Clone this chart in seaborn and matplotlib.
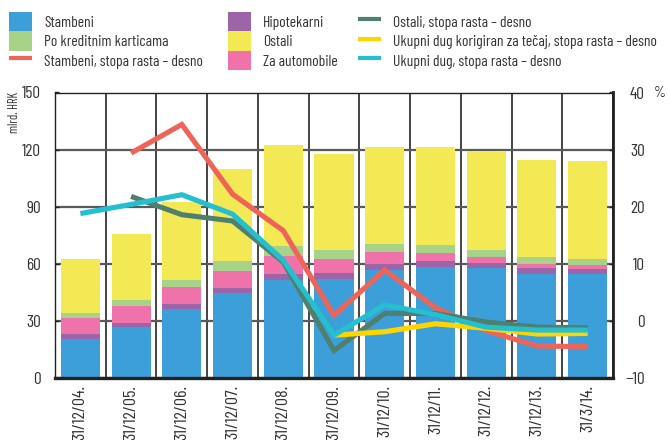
import numpy as np
import pandas as pd
import matplotlib
matplotlib.use("Agg")
import matplotlib.pyplot as plt
from matplotlib.patches import Patch
from matplotlib.lines import Line2D
import seaborn as sns

# Period labels
periods = ["31/12/04.", "31/12/05.", "31/12/06.", "31/12/07.", "31/12/08.",
           "31/12/09.", "31/12/10.", "31/12/11.", "31/12/12.", "31/12/13.",
           "31/3/14."]

# Household debt components, bn HRK
stambeni = [20.3, 26.6, 36.1, 44.5, 51.3, 51.9, 56.6, 58.2, 57.6, 54.5, 54.5]
hipotekarni = [2.7, 2.1, 2.6, 2.6, 3.2, 3.1, 3.2, 3.1, 2.7, 3.1, 2.6]
automobili = [8.4, 9.0, 9.0, 9.0, 9.5, 7.4, 6.3, 4.2, 3.1, 2.2, 2.1]
kartice = [2.6, 3.1, 3.6, 5.2, 5.2, 4.7, 4.2, 4.2, 3.7, 3.6, 3.2]
ostali = [28.4, 34.7, 41.0, 48.4, 53.1, 50.5, 51.0, 51.6, 52.1, 51.0, 51.5]

# Annual growth rates, % (right axis)
rast_stambeni = [np.nan, 29.4, 34.4, 22.2, 15.8, 1.0, 8.9, 2.3, -1.7, -4.4, -4.5]
rast_ostali = [np.nan, 21.8, 18.6, 17.5, 10.3, -5.2, 1.3, 1.3, -0.2, -1.1, -1.2]
rast_korigiran = [np.nan, np.nan, np.nan, np.nan, np.nan, -2.5, -1.9, -0.5, -1.3, -2.3, -2.2]
rast_ukupno = [18.8, 20.4, 22.1, 18.7, 10.6, -2.5, 2.8, 1.1, -1.1, -1.6, -1.6]

FONT = ["Barlow Condensed", "DejaVu Sans"]
TXT = "#333333"

sns.set_theme(style="white")
plt.rcParams["font.family"] = FONT
plt.rcParams["text.color"] = TXT

c_stambeni = "#3d9fd9"
c_hipo = "#9c65a8"
c_auto = "#ef72aa"
c_kartice = "#a7d389"
c_ostali = "#f2e954"
c_red = "#ef6459"
c_green = "#4f7f6f"
c_gold = "#ffd400"
c_cyan = "#24c0cf"

W, H = 669, 440
fig = plt.figure(figsize=(W / 100, H / 100), dpi=100)
ax = fig.add_axes([55 / W, 1 - 378 / H, (613 - 55) / W, (378 - 92.5) / H])

# Stacked bars: draw cumulative totals from the top layer down
layers = [("Stambeni", stambeni, c_stambeni),
          ("Hipotekarni", hipotekarni, c_hipo),
          ("Za automobile", automobili, c_auto),
          ("Po kreditnim karticama", kartice, c_kartice),
          ("Ostali", ostali, c_ostali)]
cum = np.cumsum([np.array(v) for _, v, _ in layers], axis=0)
for i in range(len(layers) - 1, -1, -1):
    df = pd.DataFrame({"period": periods, "value": cum[i]})
    sns.barplot(data=df, x="period", y="value", order=periods, color=layers[i][2],
                saturation=1, width=0.77, ax=ax, zorder=2, linewidth=0)

ax.set_xlim(-0.5, len(periods) - 0.5)
ax.set_ylim(0, 150)
ax.set_yticks(np.arange(0, 151, 30))
ax.set_xlabel("")
ax.set_ylabel("")

# Category separators and horizontal grid
ax.set_xticks(np.arange(len(periods) + 1) - 0.5, minor=True)
ax.grid(True, which="minor", axis="x", color="#111111", lw=1.1, zorder=1)
ax.grid(True, which="major", axis="y", color="#5a5a5a", lw=1.6, zorder=1)
ax.grid(False, which="major", axis="x")
ax.set_axisbelow(True)

ax.set_xticks(np.arange(len(periods)))
ax.set_xticklabels(periods, rotation=90, fontsize=13, color=TXT)
ax.tick_params(axis="x", which="major", length=0, pad=5)
ax.tick_params(axis="x", which="minor", length=0)
ax.tick_params(axis="y", labelsize=12.5, length=3, width=1, direction="in", pad=10,
               labelcolor=TXT, color="#222222")

for side in ["left", "top"]:
    ax.spines[side].set_color("#222222")
    ax.spines[side].set_linewidth(1.0)
ax.spines["bottom"].set_color("#222222")
ax.spines["bottom"].set_linewidth(2.4)
ax.spines["right"].set_color("#222222")
ax.spines["right"].set_linewidth(2.0)

# Growth rates on the right axis
ax2 = ax.twinx()
x = np.arange(len(periods))
lines = [(rast_stambeni, c_red), (rast_ostali, c_green),
         (rast_korigiran, c_gold), (rast_ukupno, c_cyan)]
for vals, col in lines:
    d = pd.DataFrame({"x": x, "y": vals}).dropna()
    sns.lineplot(data=d, x="x", y="y", color=col, lw=3.7, ax=ax2,
                 solid_joinstyle="miter", solid_capstyle="butt")
ax2.set_ylim(-10, 40)
ax2.set_yticks(np.arange(-10, 41, 10))
ax2.set_yticklabels(["\u221210", "0", "10", "20", "30", "40"])
ax2.set_xlim(-0.5, len(periods) - 0.5)
ax2.set_xlabel("")
ax2.set_ylabel("")
ax2.tick_params(axis="y", labelsize=12.5, length=3, width=1, direction="in", pad=23,
                labelcolor=TXT, color="#222222")
for lbl in ax2.get_yticklabels():
    lbl.set_horizontalalignment("right")
for s in ax2.spines.values():
    s.set_visible(False)
ax2.grid(False)

# Axis unit labels
fig.text(14 / W, 1 - 92 / H, "mlrd. HRK", rotation=90, ha="center", va="top",
         fontsize=9, color=TXT)
fig.text(660 / W, 1 - 93 / H, "%", ha="center", va="center", fontsize=11, color=TXT)

# Legend in three columns
def line_handle(col):
    return Line2D([], [], color=col, lw=3.0, solid_capstyle="butt")

columns = [
    (9, [Patch(color=c_stambeni, lw=0), Patch(color=c_kartice, lw=0), line_handle(c_red)],
     ["Stambeni", "Po kreditnim karticama", "Stambeni, stopa rasta \u2013 desno"]),
    (228, [Patch(color=c_hipo, lw=0), Patch(color=c_ostali, lw=0), Patch(color=c_auto, lw=0)],
     ["Hipotekarni", "Ostali", "Za automobile"]),
    (358, [line_handle(c_green), line_handle(c_gold), line_handle(c_cyan)],
     ["Ostali, stopa rasta \u2013 desno",
      "Ukupni dug korigiran za te\u010daj, stopa rasta \u2013 desno",
      "Ukupni dug, stopa rasta \u2013 desno"]),
]
for xpix, hs, ls in columns:
    fig.legend(hs, ls, loc="upper left", bbox_to_anchor=(xpix / W, 1 - 12 / H),
               frameon=False, fontsize=11.2, handlelength=1.5, handleheight=1.55,
               handletextpad=0.75, labelspacing=0.0, borderpad=0, borderaxespad=0)

fig.savefig("out.png", dpi=100)
